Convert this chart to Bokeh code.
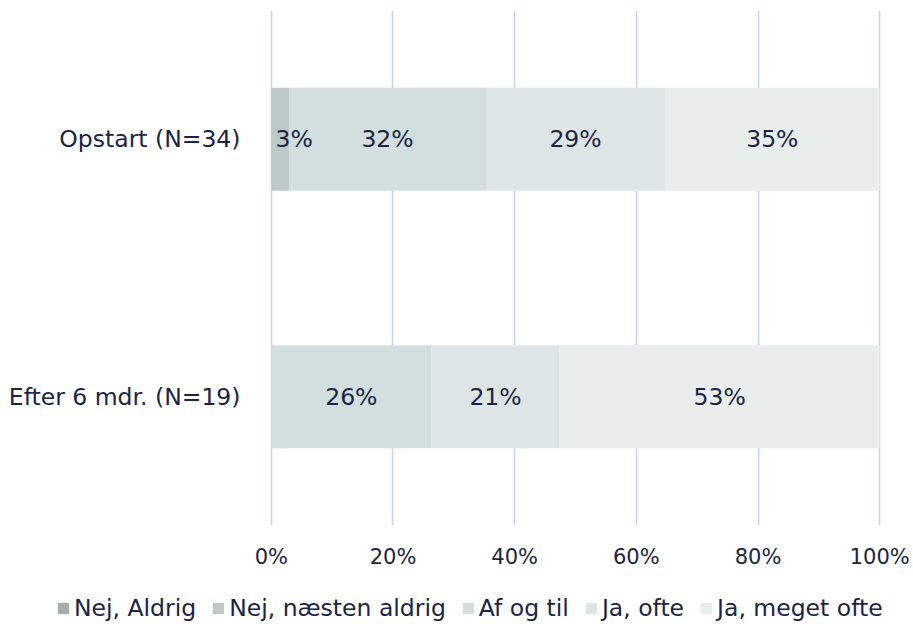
from bokeh.plotting import figure
from bokeh.layouts import column
from bokeh.models import (ColumnDataSource, Legend, LegendItem, FactorRange,
                          FixedTicker, CustomJSTickFormatter, Range1d)
from bokeh.core.properties import value
from bokeh.embed import file_html
from bokeh.resources import INLINE

# Categories listed bottom-up (Bokeh puts the first factor at the bottom)
categories = ["Efter 6 mdr. (N=19)", "Opstart (N=34)"]
series = ["Nej, Aldrig", "Nej, næsten aldrig", "Af og til", "Ja, ofte", "Ja, meget ofte"]

# Share of answers in percent, same order as categories
nej_aldrig = [0.0, 0.0]
nej_naesten_aldrig = [0.0, 2.9]
af_og_til = [26.3, 32.4]
ja_ofte = [21.1, 29.4]
ja_meget_ofte = [52.6, 35.3]

tick_values = [0, 20, 40, 60, 80, 100]
colors = ["#a6aeac", "#bdc9c7", "#d2dfde", "#dde6e4", "#e8eeec"]

FONT = "DejaVu Sans"
TEXT_COLOR = "#1b2446"

values = [nej_aldrig, nej_naesten_aldrig, af_og_til, ja_ofte, ja_meget_ofte]

p = figure(width=913, height=592, y_range=FactorRange(factors=categories),
           x_range=Range1d(-0.3, 100.3), output_backend="svg", toolbar_location=None,
           min_border_left=269, min_border_right=32, min_border_top=10,
           min_border_bottom=67)
p.frame_align = False
p.outline_line_color = None
p.background_fill_color = "white"

# stacked segments
starts = [0.0] * len(categories)
label_x, label_y, label_txt, label_off = [], [], [], []
for name, vals, col in zip(series, values, colors):
    lefts = list(starts)
    rights = [a + b for a, b in zip(lefts, vals)]
    src = ColumnDataSource(dict(y=categories, left=lefts, right=rights))
    p.hbar(y="y", left="left", right="right", height=0.4, source=src,
           fill_color=col, line_color=None)
    for c, l, v in zip(categories, lefts, vals):
        if v > 0:
            label_x.append(l + v / 2)
            label_y.append(c)
            label_txt.append(f"{round(v)}%")
            # narrow segments get their label nudged to the right
            label_off.append(14 if v < 5 else 0)
    starts = rights

lsrc = ColumnDataSource(dict(x=label_x, y=label_y, t=label_txt, off=label_off))
p.text(x="x", y="y", text="t", x_offset="off", source=lsrc, text_align="center",
       text_baseline="middle", text_font=value(FONT), text_font_size="23.5px",
       text_color=TEXT_COLOR)

# grid
p.ygrid.grid_line_color = None
p.xgrid.ticker = FixedTicker(ticks=tick_values)
p.xgrid.grid_line_color = "#c6d1f6"
p.xgrid.grid_line_width = 1.5

# axes
p.xaxis.ticker = FixedTicker(ticks=tick_values)
p.xaxis.formatter = CustomJSTickFormatter(code="return tick + '%';")
for ax in (p.xaxis[0], p.yaxis[0]):
    ax.axis_line_color = None
    ax.major_tick_line_color = None
    ax.minor_tick_line_color = None
    ax.major_label_text_font = FONT
    ax.major_label_text_color = TEXT_COLOR
p.xaxis.major_label_text_font_size = "21px"
p.yaxis.major_label_text_font_size = "23.5px"
p.xaxis.major_label_standoff = 13
p.yaxis.major_label_standoff = 23

# legend strip underneath the chart; each key uses an off-screen proxy patch
leg = figure(width=913, height=32, output_backend="svg", toolbar_location=None,
             x_range=Range1d(0, 1), y_range=Range1d(0, 1),
             x_axis_location=None, y_axis_location=None, min_border=0)
leg.frame_align = False
leg.outline_line_color = None
leg.grid.visible = False
items = []
for name, col in zip(series, colors):
    r = leg.rect(x=[-5], y=[-5], width=1, height=1, fill_color=col, line_color=None)
    items.append(LegendItem(label=name, renderers=[r]))
legend = Legend(items=items, orientation="horizontal", location=(56, 2),
                label_text_font=FONT, label_text_font_size="23.5px",
                label_text_color=TEXT_COLOR, glyph_width=14, glyph_height=14,
                label_standoff=4, spacing=15, padding=0, margin=0,
                border_line_color=None, background_fill_alpha=0)
leg.add_layout(legend, "center")

open("out.html", "w").write(file_html(column(p, leg, spacing=0), INLINE))
